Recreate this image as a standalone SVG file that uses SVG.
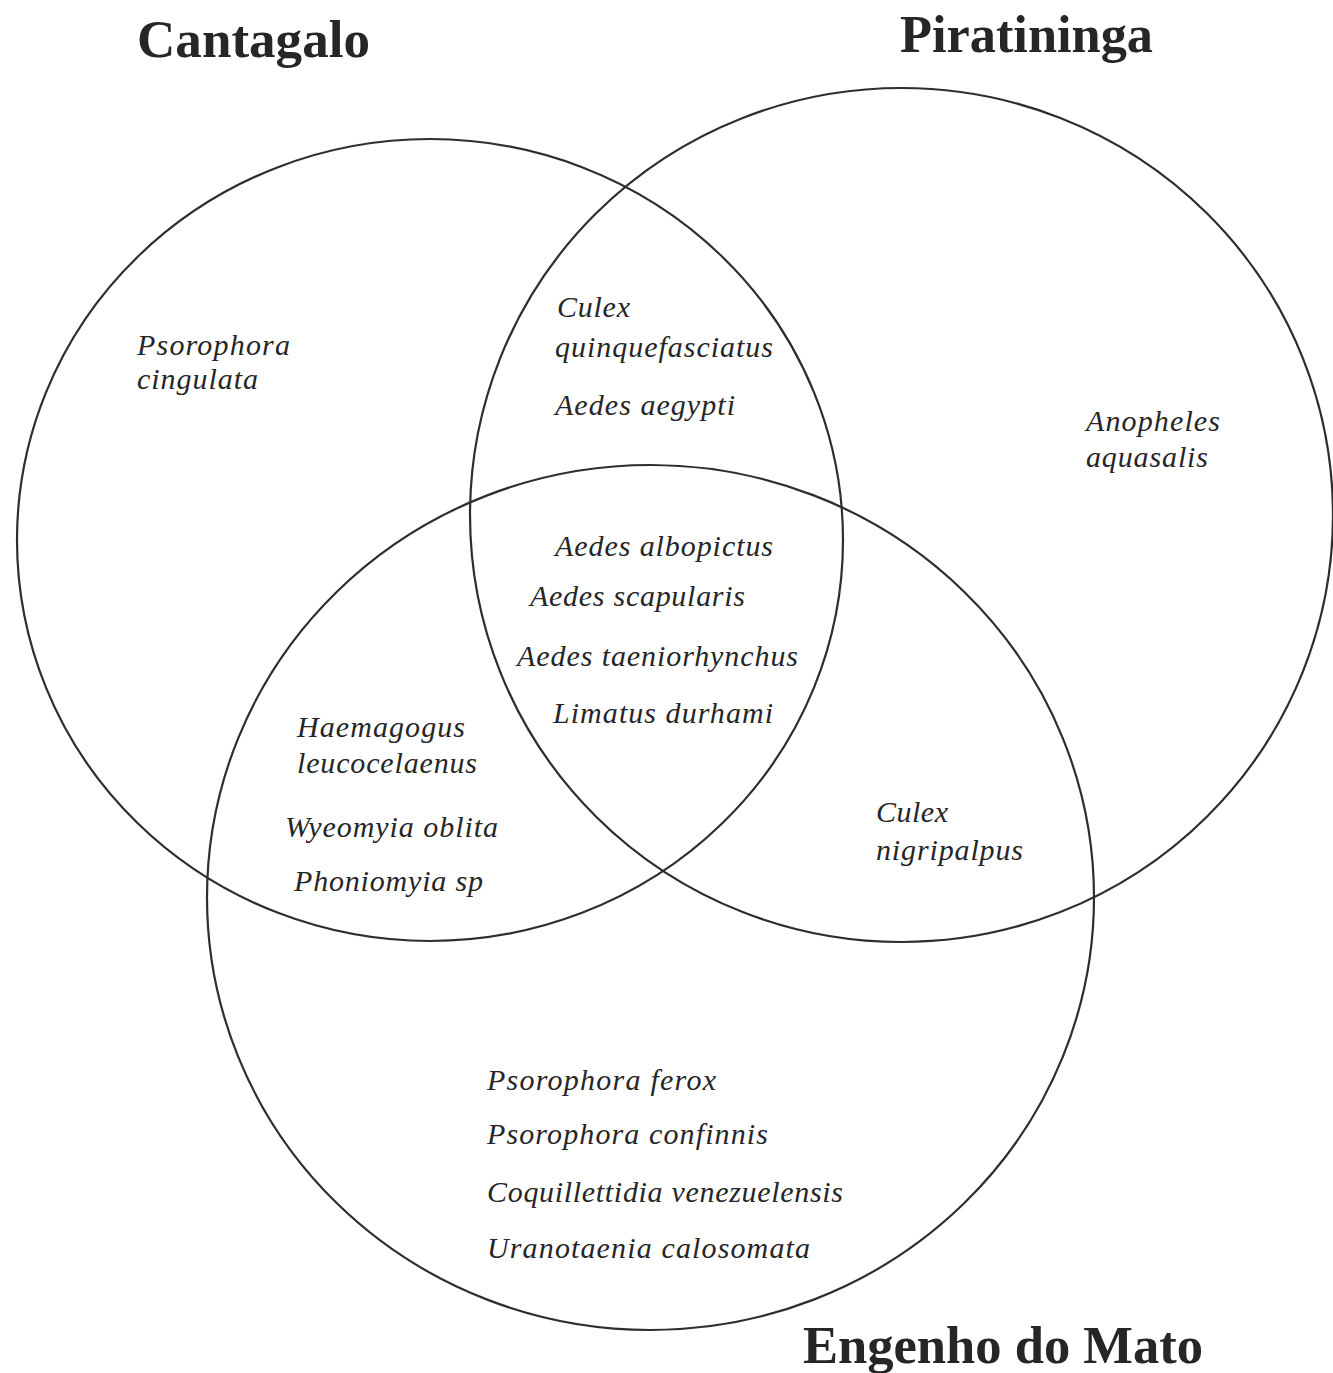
<svg xmlns="http://www.w3.org/2000/svg" width="1333" height="1373" viewBox="0 0 1333 1373">
<style>
.set{fill:none;stroke:#2e2e2e;stroke-width:2.2}
.title{font-family:"Liberation Serif","Times New Roman",serif;font-weight:bold;font-size:52px;fill:#262626}
.sp{font-family:"Liberation Serif","Times New Roman",serif;font-style:italic;font-size:30px;fill:#262626}
</style>
<rect width="1333" height="1373" fill="#ffffff"/>
<g id="connectors"></g>
<g id="cantagalo">
<ellipse class="set" cx="430" cy="540" rx="413" ry="401"/>
<text class="title" x="137" y="57" textLength="233" lengthAdjust="spacingAndGlyphs">Cantagalo</text>
<text class="sp" x="137" y="355" textLength="153" lengthAdjust="spacing">Psorophora</text>
<text class="sp" x="137" y="389" textLength="121" lengthAdjust="spacing">cingulata</text>
</g>
<g id="piratininga">
<ellipse class="set" cx="901.5" cy="515" rx="431.5" ry="427"/>
<text class="title" x="900" y="52" textLength="253" lengthAdjust="spacingAndGlyphs">Piratininga</text>
<text class="sp" x="1086" y="431" textLength="134" lengthAdjust="spacing">Anopheles</text>
<text class="sp" x="1086" y="467" textLength="122" lengthAdjust="spacing">aquasalis</text>
</g>
<g id="engenho">
<ellipse class="set" cx="650.5" cy="897.5" rx="443.5" ry="432.5"/>
<text class="title" x="803" y="1363" textLength="400" lengthAdjust="spacingAndGlyphs">Engenho do Mato</text>
<text class="sp" x="487" y="1090" textLength="229" lengthAdjust="spacing">Psorophora ferox</text>
<text class="sp" x="487" y="1144" textLength="281" lengthAdjust="spacing">Psorophora confinnis</text>
<text class="sp" x="487" y="1202" textLength="356" lengthAdjust="spacing">Coquillettidia venezuelensis</text>
<text class="sp" x="487" y="1258" textLength="323" lengthAdjust="spacing">Uranotaenia calosomata</text>
</g>
<g id="cantagalo-piratininga">
<text class="sp" x="557" y="317" textLength="73" lengthAdjust="spacing">Culex</text>
<text class="sp" x="555" y="357" textLength="218" lengthAdjust="spacing">quinquefasciatus</text>
<text class="sp" x="555" y="415" textLength="180" lengthAdjust="spacing">Aedes aegypti</text>
</g>
<g id="all-three">
<text class="sp" x="555" y="556" textLength="218" lengthAdjust="spacing">Aedes albopictus</text>
<text class="sp" x="530" y="606" textLength="215" lengthAdjust="spacing">Aedes scapularis</text>
<text class="sp" x="517" y="666" textLength="281" lengthAdjust="spacing">Aedes taeniorhynchus</text>
<text class="sp" x="553" y="723" textLength="220" lengthAdjust="spacing">Limatus durhami</text>
</g>
<g id="cantagalo-engenho">
<text class="sp" x="297" y="737" textLength="168" lengthAdjust="spacing">Haemagogus</text>
<text class="sp" x="297" y="773" textLength="180" lengthAdjust="spacing">leucocelaenus</text>
<text class="sp" x="285" y="837" textLength="213" lengthAdjust="spacing">Wyeomyia oblita</text>
<text class="sp" x="294" y="891" textLength="189" lengthAdjust="spacing">Phoniomyia sp</text>
</g>
<g id="piratininga-engenho">
<text class="sp" x="876" y="822" textLength="72" lengthAdjust="spacing">Culex</text>
<text class="sp" x="876" y="860" textLength="147" lengthAdjust="spacing">nigripalpus</text>
</g>
</svg>
